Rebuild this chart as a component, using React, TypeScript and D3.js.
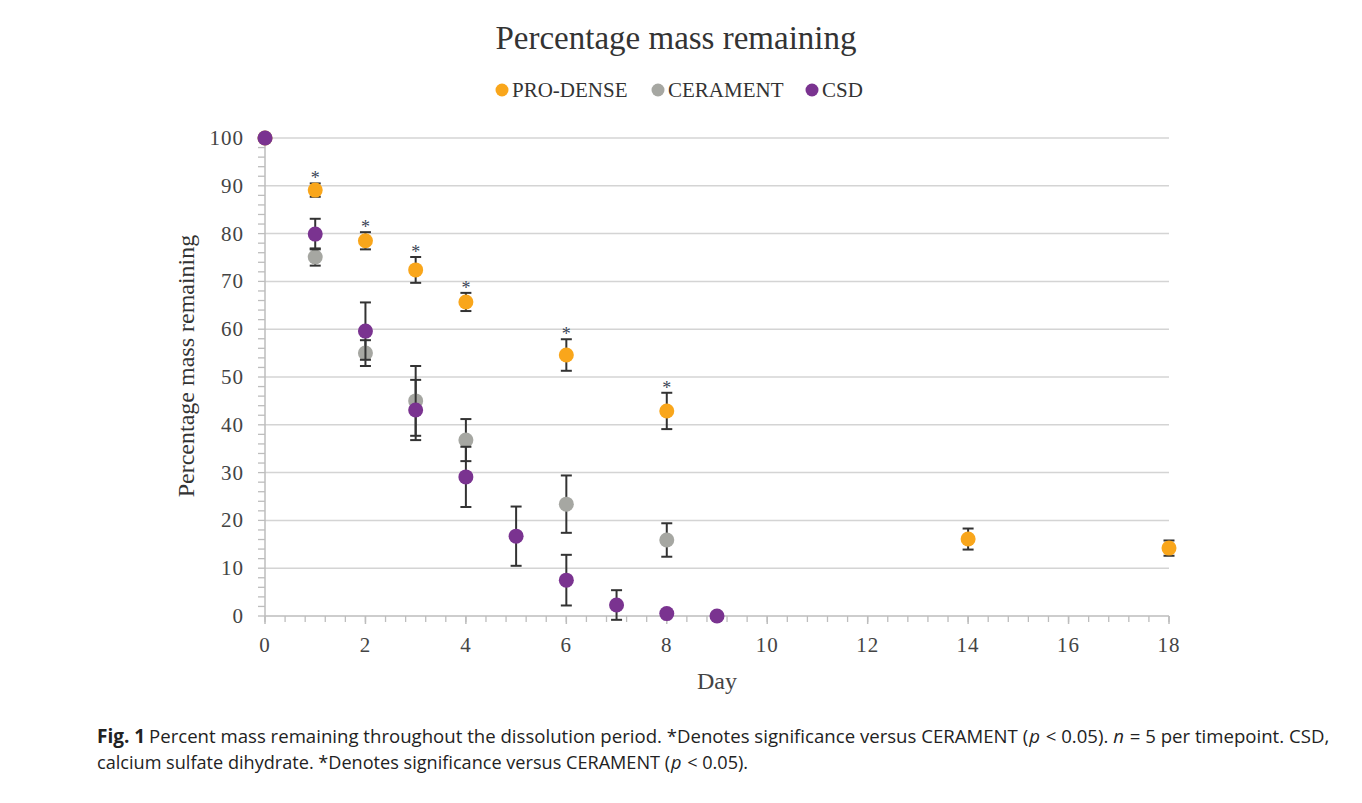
import React, { useLayoutEffect, useRef, useState } from "react";
import * as d3 from "d3";

const seriesNames = ["PRO-DENSE", "CERAMENT", "CSD"];
const seriesColors = ["#F9A61B", "#A6A7A2", "#7A3390"];

const proDays = [0, 1, 2, 3, 4, 6, 8, 14, 18];
const proVals = [100, 89.1, 78.5, 72.4, 65.7, 54.6, 42.9, 16.1, 14.2];
const proErr = [0, 1.4, 1.8, 2.7, 1.9, 3.3, 3.8, 2.2, 1.6];
const proSig = [false, true, true, true, true, true, true, false, false];

const cerDays = [0, 1, 2, 3, 4, 6, 8];
const cerVals = [100, 75.1, 55.0, 45.0, 36.8, 23.4, 15.9];
const cerErr = [0, 1.8, 2.7, 7.3, 4.4, 6.0, 3.5];

const csdDays = [0, 1, 2, 3, 4, 5, 6, 7, 8, 9];
const csdVals = [100, 79.9, 59.6, 43.1, 29.1, 16.7, 7.5, 2.3, 0.5, 0];
const csdErr = [0, 3.2, 6.0, 6.3, 6.3, 6.2, 5.3, 3.1, 0.6, 0];

const xTicks = [0, 2, 4, 6, 8, 10, 12, 14, 16, 18];
const yTicks = [0, 10, 20, 30, 40, 50, 60, 70, 80, 90, 100];

const SERIF = "'Liberation Serif', 'DejaVu Serif', serif";
const SANS = "'Open Sans', 'Noto Sans', sans-serif";

function FitText({ x0, y0, width, children }: { x0: number; y0: number; width: number; children: React.ReactNode }) {
  const ref = useRef<SVGTextElement>(null);
  const [sx, setSx] = useState(1);
  useLayoutEffect(() => {
    if (ref.current) {
      const len = ref.current.getComputedTextLength();
      if (len > 0) setSx(width / len);
    }
  }, [width]);
  return (
    <g transform={`translate(${x0},${y0}) scale(${sx},1)`}>
      <text ref={ref} x={0} y={0} fontFamily={SANS} fontSize={19} fill="#222">{children}</text>
    </g>
  );
}

export default function App() {
  const W = 1362, H = 803;
  const x = d3.scaleLinear().domain([0, 18]).range([265, 1169]);
  const y = d3.scaleLinear().domain([0, 100]).range([616, 138]);
  const xMinor = d3.range(0, 18.001, 0.4);
  const yMinor = d3.range(0, 100.001, 2);

  const series = [
    { days: proDays, vals: proVals, err: proErr, color: seriesColors[0] },
    { days: cerDays, vals: cerVals, err: cerErr, color: seriesColors[1] },
    { days: csdDays, vals: csdVals, err: csdErr, color: seriesColors[2] },
  ];

  const legendX = [502, 658, 812];

  return (
    <svg width={W} height={H} style={{ position: "absolute", left: 0, top: 0, background: "#fff" }}>
      <text x={676} y={49} textAnchor="middle" fontFamily={SERIF} fontSize={33} fill="#333">
        Percentage mass remaining
      </text>
      {seriesNames.map((n, i) => (
        <g key={n}>
          <circle cx={legendX[i]} cy={90} r={6.5} fill={seriesColors[i]} />
          <text x={legendX[i] + 10} y={97} fontFamily={SERIF} fontSize={21} fill="#333">{n}</text>
        </g>
      ))}

      {/* gridlines */}
      {yTicks.filter((t) => t > 0).map((t) => (
        <line key={t} x1={x(0)} x2={x(18)} y1={y(t)} y2={y(t)} stroke="#d4d4d4" strokeWidth={1.5} />
      ))}
      {/* axes */}
      <line x1={x(0)} x2={x(0)} y1={y(100)} y2={y(0)} stroke="#bdbdbd" strokeWidth={1.5} />
      <line x1={x(0)} x2={x(18)} y1={y(0)} y2={y(0)} stroke="#bdbdbd" strokeWidth={1.5} />
      {yMinor.map((t) => (
        <line key={"ym" + t} x1={x(0) - 7} x2={x(0)} y1={y(t)} y2={y(t)} stroke="#bdbdbd" strokeWidth={1.3} />
      ))}
      {xMinor.map((t) => (
        <line key={"xm" + t} x1={x(t)} x2={x(t)} y1={y(0)} y2={y(0) + 6} stroke="#bdbdbd" strokeWidth={1.3} />
      ))}
      {xTicks.map((t) => (
        <line key={"xM" + t} x1={x(t)} x2={x(t)} y1={y(0)} y2={y(0) + 8} stroke="#bdbdbd" strokeWidth={1.5} />
      ))}
      {yTicks.map((t) => (
        <text key={"yl" + t} x={244} y={y(t) + 7} textAnchor="end" fontFamily={SERIF} fontSize={21} letterSpacing={1} fill="#444">{t}</text>
      ))}
      {xTicks.map((t) => (
        <text key={"xl" + t} x={x(t)} y={652} textAnchor="middle" fontFamily={SERIF} fontSize={21} letterSpacing={1} fill="#444">{t}</text>
      ))}
      <text x={717} y={689} textAnchor="middle" fontFamily={SERIF} fontSize={24} fill="#444">Day</text>
      <text transform={`translate(194,${y(50) - 11}) rotate(-90)`} textAnchor="middle" fontFamily={SERIF} fontSize={24} fill="#333">
        Percentage mass remaining
      </text>

      {/* series */}
      {series.map((s, si) => (
        <g key={si}>
          {s.days.map((d, i) =>
            s.err[i] > 0 ? (
              <g key={"e" + i} stroke="#333" strokeWidth={2}>
                <line x1={x(d)} x2={x(d)} y1={y(s.vals[i] + s.err[i])} y2={y(s.vals[i] - s.err[i])} />
                <line x1={x(d) - 5.5} x2={x(d) + 5.5} y1={y(s.vals[i] + s.err[i])} y2={y(s.vals[i] + s.err[i])} />
                <line x1={x(d) - 5.5} x2={x(d) + 5.5} y1={y(s.vals[i] - s.err[i])} y2={y(s.vals[i] - s.err[i])} />
              </g>
            ) : null
          )}
          {s.days.map((d, i) => (
            <circle key={"p" + i} cx={x(d)} cy={y(s.vals[i])} r={7.5} fill={s.color} />
          ))}
        </g>
      ))}
      {proDays.map((d, i) =>
        proSig[i] ? (
          <text key={"s" + i} x={x(d)} y={y(proVals[i] + proErr[i]) + 1} textAnchor="middle" fontFamily={SERIF} fontSize={18} fill="#3a4556">*</text>
        ) : null
      )}

      {/* caption */}
      <text x={97} y={743} fontFamily={SANS} fontSize={19} fill="#222" fontWeight="bold">Fig. 1</text>
      <FitText x0={149} y0={743} width={1178}>
        Percent mass remaining throughout the dissolution period. *Denotes significance versus CERAMENT (<tspan dx={1} fontStyle="italic">p</tspan><tspan dx={1}>{" < 0.05). "}</tspan><tspan fontStyle="italic">n</tspan><tspan dx={1}>{" = 5 per timepoint. CSD,"}</tspan>
      </FitText>
      <FitText x0={97} y0={769} width={650}>
        calcium sulfate dihydrate. *Denotes significance versus CERAMENT (<tspan dx={1} fontStyle="italic">p</tspan><tspan dx={1}>{" < 0.05)."}</tspan>
      </FitText>
    </svg>
  );
}
